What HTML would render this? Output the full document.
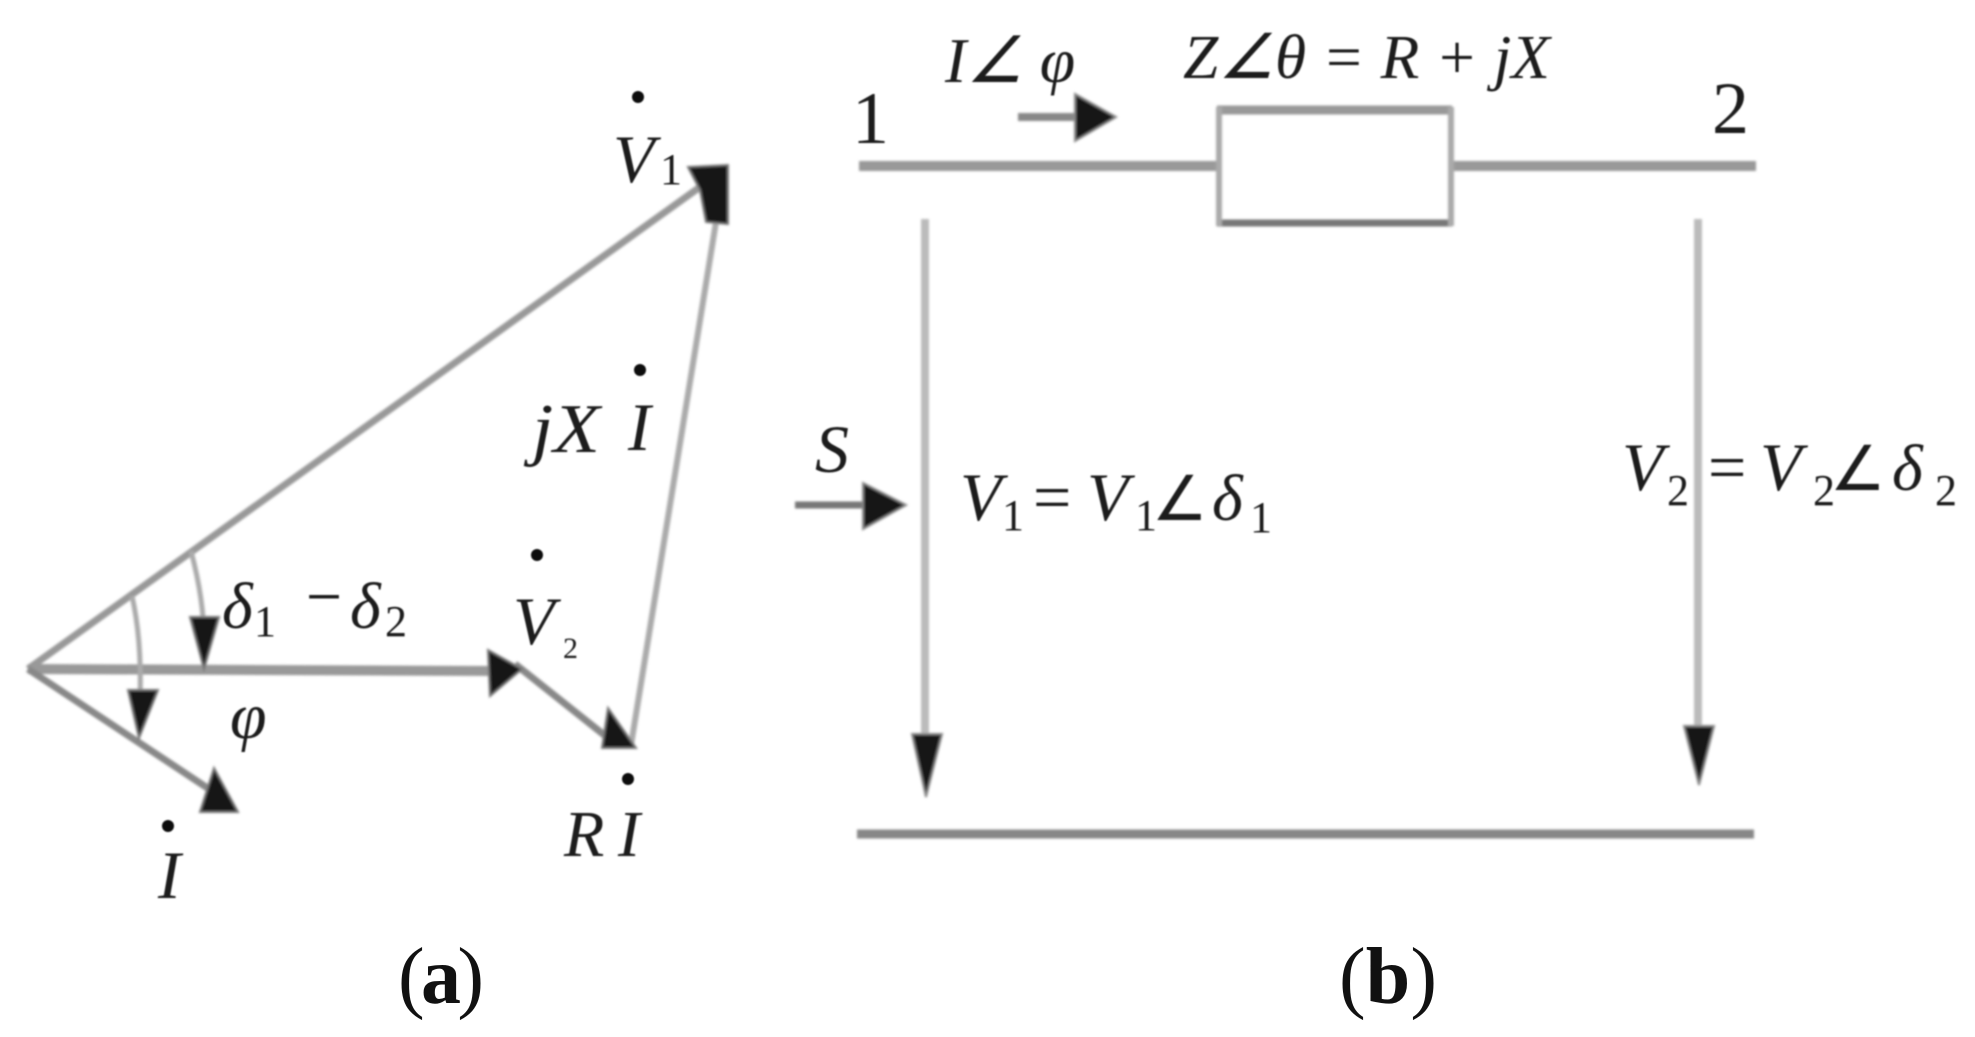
<!DOCTYPE html>
<html><head><meta charset="utf-8"><style>
html,body{margin:0;padding:0;background:#fff;width:1975px;height:1037px;overflow:hidden}
svg{display:block}
text{font-family:"Liberation Serif",serif;fill:#1a1a1a}
.i{font-style:italic}
.b{font-size:76px;fill:#111}
.bb{font-weight:bold}
</style></head><body>
<svg width="1975" height="1037" viewBox="0 0 1975 1037" xmlns="http://www.w3.org/2000/svg">
<defs><filter id="b" x="-5%" y="-5%" width="110%" height="110%"><feGaussianBlur stdDeviation="1.4"/></filter>
<filter id="t" x="-5%" y="-5%" width="110%" height="110%"><feGaussianBlur stdDeviation="0.8"/></filter></defs>
<g filter="url(#b)" fill="none">
<!-- (a) lines -->
<path d="M28 669L700 187" stroke="#999" stroke-width="7"/>
<path d="M28 669L500 671" stroke="#999" stroke-width="10"/>
<path d="M28 669L215 793" stroke="#888" stroke-width="7"/>
<path d="M515 664L608 738" stroke="#888" stroke-width="7"/>
<path d="M631 745L716 222" stroke="#aaa" stroke-width="6"/>
<path d="M191 551Q204 600 204 640" stroke="#aaa" stroke-width="5"/>
<path d="M132 596Q142 640 140 700" stroke="#aaa" stroke-width="5"/>
<!-- (a) heads -->
<g fill="#161616" stroke="#777" stroke-width="2">
<path d="M688 167L728 165L728 224L706 222L700 190Z"/>
<path d="M488 650L522 669L490 696Z"/>
<path d="M602 748L636 748L608 708Z"/>
<path d="M200 812L238 812L214 768Z"/>
<path d="M190 617L219 617L204 669Z"/>
<path d="M128 690L158 690L139 738Z"/>
</g>
<!-- (b) lines -->
<path d="M859 166H1217M1451 166H1756" stroke="#999" stroke-width="10"/>
<path d="M1217 110H1452" stroke="#999" stroke-width="9"/>
<path d="M1217 223H1452" stroke="#777" stroke-width="7"/>
<path d="M1219 107V226M1451 107V226" stroke="#aaa" stroke-width="6"/>
<path d="M925 219V760" stroke="#bbb" stroke-width="8"/>
<path d="M1698 219V745" stroke="#bbb" stroke-width="8"/>
<path d="M857 834H1754" stroke="#888" stroke-width="9"/>
<path d="M795 505H880" stroke="#777" stroke-width="7"/>
<path d="M1018 117H1090" stroke="#888" stroke-width="8"/>
<!-- (b) heads -->
<g fill="#161616" stroke="#888" stroke-width="2">
<path d="M912 734L942 734L926 797Z"/>
<path d="M1684 726L1714 726L1699 785Z"/>
<path d="M863 483L906 505L863 529Z"/>
<path d="M1075 94L1116 117L1075 141Z"/>
</g>
</g>
<g filter="url(#t)">
<!-- (a) labels -->
<circle cx="638" cy="97" r="6" fill="#111"/>
<text x="613" y="182" class="i" font-size="68">V</text>
<text x="660" y="184" font-size="44">1</text>
<text x="532" y="452" class="i" font-size="70" textLength="68" lengthAdjust="spacingAndGlyphs">jX</text>
<text x="628" y="450" class="i" font-size="68">I</text>
<circle cx="640" cy="370" r="6" fill="#111"/>
<text x="222" y="628" class="i" font-size="66">δ</text>
<text x="254" y="636" font-size="44">1</text>
<text x="306" y="620" font-size="70" textLength="36" lengthAdjust="spacingAndGlyphs">−</text>
<text x="350" y="628" class="i" font-size="66">δ</text>
<text x="385" y="636" font-size="44">2</text>
<circle cx="537" cy="555" r="6" fill="#111"/>
<text x="513" y="644" class="i" font-size="68">V</text>
<text x="563" y="658" font-size="30">2</text>
<text x="230" y="738" class="i" font-size="66">φ</text>
<circle cx="628" cy="779" r="6" fill="#111"/>
<text x="564" y="856" class="i" font-size="66">R</text>
<text x="618" y="856" class="i" font-size="66">I</text>
<circle cx="168" cy="826" r="6" fill="#111"/>
<text x="158" y="898" class="i" font-size="68">I</text>
<!-- (b) labels -->
<text x="852" y="143" font-size="74">1</text>
<text x="1712" y="133" font-size="74">2</text>
<text x="945" y="82" class="i" font-size="64">I∠ φ</text>
<text x="1183" y="78" class="i" font-size="62" textLength="367" lengthAdjust="spacingAndGlyphs" fill="#333">Z∠θ = R + jX</text>
<text x="815" y="472" class="i" font-size="68">S</text>
<text x="960" y="520" class="i" font-size="68">V</text>
<text x="1002" y="530" font-size="44">1</text>
<text x="1033" y="520" font-size="68">=</text>
<text x="1087" y="520" class="i" font-size="68">V</text>
<text x="1135" y="530" font-size="44">1</text>
<text x="1152" y="520" font-size="62">∠</text>
<text x="1212" y="520" class="i" font-size="66">δ</text>
<text x="1250" y="532" font-size="44">1</text>
<text x="1622" y="490" class="i" font-size="68">V</text>
<text x="1667" y="505" font-size="44">2</text>
<text x="1708" y="490" font-size="68">=</text>
<text x="1760" y="490" class="i" font-size="68">V</text>
<text x="1813" y="505" font-size="44">2</text>
<text x="1830" y="490" font-size="62">∠</text>
<text x="1892" y="490" class="i" font-size="66">δ</text>
<text x="1935" y="505" font-size="44">2</text>
</g>
<!-- captions -->
<text x="398" y="1003" class="b" style="font-size:80px" textLength="86">(<tspan class="bb">a</tspan>)</text>
<text x="1339" y="1003" class="b" style="font-size:80px" textLength="98">(<tspan class="bb">b</tspan>)</text>
</svg>
</body></html>
